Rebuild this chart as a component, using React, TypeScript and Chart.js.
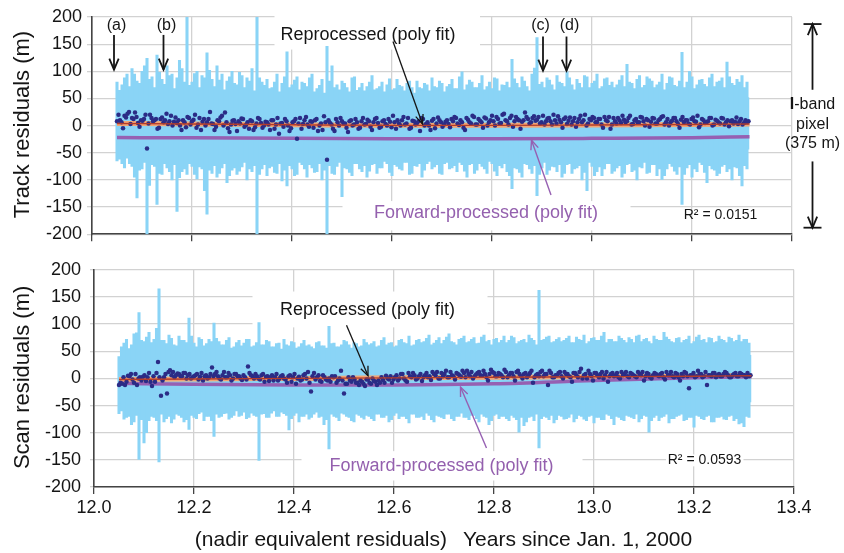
import React, { useEffect, useRef } from 'react';
import { Chart, registerables } from 'chart.js';

Chart.register(...registerables);

// ---------------- DATA ----------------
// Light-blue residual spikes (set A at SPIKE_START + i*SPIKE_STEP, set B half a step later)
const SPIKE_START = 12.05;
const SPIKE_STEP = 0.01;
const trackHigh = [
  80, 75, 95, 105, 82, 100, 124, 90, 130, 85,
  110, 95, 88, 105, 200, 80, 100, 92, 134, 85,
  110, 95, 82, 100, 75, 92, 88, 105, 200, 80,
  85, 70, 95, 78, 136, 75, 90, 80, 72, 95,
  68, 85, 146, 110, 75, 82, 70, 88, 65, 78,
  72, 92, 68, 80, 75, 66, 85, 72, 78, 70,
  82, 68, 75, 88, 70, 78, 72, 85, 68, 99,
  75, 80, 70, 92, 72, 68, 86, 75, 80, 122,
  78, 90, 72, 95, 162, 80, 88, 75, 92, 78,
  99, 75, 85, 70, 90, 78, 95, 72, 88, 80,
  75, 92, 113, 78, 85, 70, 90, 82, 75, 95,
  78, 88, 72, 135, 80, 90, 75, 85, 72, 95,
  80, 88, 117, 78, 85, 92, 80,
];
const trackLow = [
  -65, -70, -60, -75, -133, -80, -200, -72, -145, -90,
  -78, -100, -158, -85, -90, -75, -98, -80, -163, -88,
  -95, -78, -105, -82, -90, -76, -100, -85, -200, -80,
  -92, -75, -88, -102, -111, -80, -90, -72, -95, -78,
  -85, -100, -200, -88, -75, -131, -80, -92, -70, -85,
  -95, -72, -88, -78, -70, -92, -75, -82, -68, -88,
  -75, -95, -70, -80, -72, -90, -68, -78, -85, -72,
  -95, -70, -82, -75, -88, -70, -92, -78, -85, -116,
  -80, -95, -72, -88, -129, -78, -90, -75, -85, -95,
  -72, -88, -78, -100, -120, -75, -85, -92, -70, -88,
  -78, -95, -72, -85, -100, -78, -88, -72, -92, -99,
  -80, -75, -90, -145, -78, -95, -85, -72, -105, -80,
  -92, -75, -85, -100, -78, -111, -80,
];
const trackHighB = [
  65, 88, 72, 95, 78, 110, 85, 70, 98, 76,
  92, 68, 120, 80, 74, 96, 70, 88, 102, 72,
  84, 66, 90, 78, 98, 70, 82, 64, 88, 74,
  68, 80, 62, 90, 70, 84, 66, 78, 88, 62,
  74, 60, 82, 70, 66, 78, 62, 90, 70, 64,
  80, 66, 72, 62, 86, 68, 74, 64, 82, 60,
  70, 78, 64, 72, 82, 62, 76, 68, 90, 66,
  84, 70, 78, 66, 80, 88, 64, 74, 70, 86,
  70, 82, 64, 106, 76, 70, 84, 66, 80, 72,
  88, 66, 78, 92, 70, 82, 68, 86, 74, 70,
  84, 72, 80, 68, 92, 74, 86, 70, 80, 66,
  90, 74, 82, 70, 100, 68, 84, 76, 88, 72,
  82, 70, 90, 74, 80, 70,
];
const trackLowB = [
  -62, -78, -70, -95, -82, -68, -110, -75, -88, -70,
  -85, -72, -96, -80, -70, -90, -76, -120, -82, -74,
  -88, -70, -92, -78, -84, -68, -80, -74, -90, -72,
  -78, -86, -70, -82, -74, -92, -68, -80, -72, -86,
  -70, -82, -74, -90, -68, -78, -86, -70, -80, -74,
  -84, -70, -78, -66, -86, -72, -80, -68, -90, -74,
  -70, -82, -66, -76, -88, -70, -80, -74, -68, -84,
  -72, -88, -70, -80, -66, -84, -74, -70, -92, -78,
  -86, -70, -80, -74, -90, -68, -82, -76, -72, -88,
  -70, -80, -74, -86, -68, -92, -76, -80, -70, -84,
  -74, -88, -70, -82, -76, -68, -86, -72, -80, -92,
  -70, -84, -76, -90, -72, -80, -68, -86, -74, -82,
  -88, -72, -80, -76, -92, -74,
];
const scanHigh = [
  40, 65, 55, 82, 121, 68, 85, 72, 165, 70,
  80, 62, 78, 70, 111, 65, 75, 60, 72, 102,
  68, 62, 75, 58, 70, 65, 72, 60, 103, 62,
  68, 58, 65, 72, 60, 66, 58, 70, 62, 55,
  68, 60, 96, 65, 58, 70, 62, 66, 58, 72,
  62, 68, 60, 75, 65, 58, 70, 66, 78, 62,
  72, 68, 80, 65, 75, 70, 82, 66, 72, 78,
  68, 75, 65, 80, 70, 72, 66, 78, 70, 75,
  68, 72, 80, 70, 162, 72, 78, 68, 75, 70,
  78, 66, 72, 80, 68, 75, 70, 85, 72, 68,
  78, 70, 75, 66, 80, 72, 68, 78, 70, 85,
  72, 66, 75, 70, 78, 68, 80, 72, 75, 66,
  78, 70, 76, 68, 80, 72, 65,
];
const scanLow = [
  -65, -75, -70, -80, -149, -119, -78, -72, -154, -80,
  -70, -75, -68, -80, -94, -72, -65, -78, -70, -107,
  -72, -65, -75, -68, -70, -62, -72, -68, -151, -65,
  -72, -60, -70, -65, -95, -68, -80, -70, -75, -66,
  -72, -85, -130, -70, -78, -66, -72, -80, -68, -75,
  -70, -78, -66, -72, -80, -68, -74, -70, -82, -66,
  -72, -76, -68, -80, -70, -74, -66, -78, -70, -72,
  -76, -68, -80, -70, -85, -68, -74, -70, -78, -72,
  -99, -87, -72, -78, -128, -70, -76, -82, -68, -75,
  -72, -80, -68, -75, -70, -82, -72, -76, -68, -85,
  -72, -78, -70, -74, -80, -68, -99, -72, -78, -70,
  -82, -74, -68, -78, -72, -90, -70, -76, -68, -80,
  -72, -75, -70, -78, -84, -89, -72,
];
const scanHighB = [
  58, 72, 62, 84, 70, 76, 66, 92, 70, 64,
  74, 60, 70, 66, 78, 58, 72, 64, 68, 74,
  62, 70, 56, 66, 60, 72, 58, 66, 62, 70,
  58, 64, 54, 62, 68, 56, 64, 60, 58, 66,
  60, 56, 64, 58, 62, 68, 56, 64, 60, 66,
  64, 58, 70, 62, 66, 60, 72, 64, 60, 70,
  66, 74, 62, 70, 64, 76, 68, 62, 74, 66,
  72, 64, 76, 68, 62, 74, 70, 66, 78, 64,
  70, 66, 74, 62, 70, 76, 66, 72, 68, 74,
  66, 76, 70, 64, 74, 70, 78, 66, 72, 68,
  74, 66, 72, 78, 68, 74, 64, 72, 70, 76,
  68, 74, 66, 72, 64, 76, 70, 66, 74, 68,
  72, 66, 74, 70, 68, 72,
];
const scanLowB = [
  -60, -72, -85, -68, -76, -100, -70, -78, -66, -74,
  -82, -66, -72, -76, -68, -74, -62, -70, -78, -66,
  -70, -64, -72, -60, -68, -74, -64, -70, -66, -72,
  -64, -70, -62, -68, -74, -64, -70, -66, -72, -62,
  -70, -76, -66, -72, -64, -70, -78, -66, -72, -68,
  -74, -66, -72, -68, -76, -64, -70, -74, -66, -72,
  -70, -64, -76, -68, -72, -66, -74, -70, -64, -72,
  -68, -74, -66, -72, -78, -66, -70, -74, -68, -76,
  -72, -80, -70, -66, -74, -72, -68, -76, -70, -74,
  -66, -74, -70, -78, -68, -72, -76, -66, -74, -70,
  -76, -68, -72, -66, -74, -70, -78, -68, -72, -66,
  -74, -70, -66, -76, -72, -68, -74, -70, -80, -72,
  -70, -76, -68, -74, -82, -70,
];

// Solid core of the residual band, one value every CORE_STEP years
const CORE_START = 12.05;
const CORE_STEP = 0.0506;
const trackCoreHigh = [58, 62, 60, 60, 58, 55, 52, 50, 48, 47, 46, 47, 48, 46, 47, 50, 48, 47, 49, 48, 47, 50, 48, 47, 49, 52];
const trackCoreLow = [-45, -48, -50, -48, -47, -49, -47, -46, -44, -43, -44, -43, -42, -43, -44, -43, -42, -43, -44, -43, -43, -44, -43, -42, -43, -44];
const scanCoreHigh = [38, 46, 44, 42, 40, 40, 39, 38, 39, 40, 38, 39, 41, 43, 43, 45, 43, 45, 43, 45, 43, 45, 43, 43, 45, 43];
const scanCoreLow = [-44, -50, -48, -45, -44, -42, -44, -45, -42, -40, -42, -44, -44, -42, -44, -45, -44, -42, -45, -44, -44, -45, -42, -44, -45, -44];

// Dark-blue points: set A at DOT_START + i*DOT_STEP, set B half a step later
const DOT_START = 12.05;
const DOT_STEP = 0.006;
const trackDots = [
  8, 10, -5, 15, 25, 14, 24, 5, 10, 12,
  -42, 20, 8, 12, -4, 15, 10, 3, 18, 7,
  5, 0, 10, -3, 14, 8, 20, 2, -8, 12,
  6, 25, 3, -2, 8, 18, 24, -5, 2, 10,
  -10, 4, 12, 1, -6, 8, -3, 14, 5, 0,
  6, -8, 10, 2, -15, 5, 12, 0, -5, 8,
  -24, 14, 3, 16, -2, 7, 10, -10, 4, 17,
  -63, 5, -6, 12, 0, 8, 4, -12, 10, 2,
  6, -4, 14, 3, 8, -8, 12, 5, -2, 10,
  0, 7, 18, -6, 4, 10, 2, 14, -4, 8,
  5, -10, 12, 3, 0, 9, -5, 15, 6, 2,
  10, -3, 8, 14, 1, 6, -8, 11, 4, 16,
  2, 9, -4, 13, 6, 18, 0, 12, 5, 22,
  8, 14, -2, 16, 10, 7, 24, 12, 6, 17,
  11, 4, 18, 8, 14, 2, 10, 17, 6, 12,
  3, 15, 8, -2, 12, 6, 20, 4, 10, 14,
  6, 12, -4, 10, 16, 2, 8, 14, 5, 11,
  8, 18, 3, 12, 6, 15, 0, 10, 7, 13,
  4, 12, 17, 6, 0, 9, 14, 3, 11, 6,
  10, 2, 15, 7, -3, 12, 5, 8, 14, 2,
  9, 4, 13, 6, -1, 10, 7, 3, 12, 5,
  6,
];
const trackDotsB = [
  20, 6, 18, 22, 3, 12, 16, -2, 9, 20,
  4, 14, 10, -6, 12, 6, 22, 8, 0, 15,
  10, -8, 6, 16, 2, 11, -4, 14, 7, 0,
  12, 4, -8, 10, 15, 0, 6, -12, 9, 3,
  8, 13, -2, 6, 10, -8, 4, 12, -4, 7,
  2, 10, -6, 14, 4, -2, 8, -10, 6, 12,
  4, -6, 10, 2, 8, -4, 12, 0, -8, 6,
  10, 2, -10, 6, 14, 4, -4, 8, 0, 12,
  -6, 8, 2, 11, -2, 6, 14, -4, 8, 3,
  12, -3, 6, 10, 0, 16, 4, -6, 9, 2,
  8, 14, 0, 6, -8, 12, 4, 10, -2, 7,
  3, 12, 16, 4, 10, -4, 14, 6, 18, 2,
  12, 6, 15, 0, 10, 8, 16, 4, 20, 10,
  2, 18, 8, 12, -6, 10, 16, 4, 14, 9,
  16, 6, 2, 13, 8, 20, 4, 11, -4, 15,
  9, 2, 14, 6, 18, 10, 0, 12, 16, 6,
  12, 2, 16, 8, -6, 14, 4, 10, 18, 6,
  14, 2, 10, 6, 16, 8, 12, -2, 14, 4,
  10, 16, 2, 12, 6, 14, 8, -4, 16, 10,
  4, 12, 8, 18, 2, 10, 6, 14, 0, 11,
  6, 14, 2, 10, 8, 4, 15, 8, 2, 10,
  8,
];
const scanDots = [
  -12, -10, -12, 5, 8, -8, -12, 2, 3, -5,
  10, -14, -6, 30, -32, 2, -28, 15, 12, 6,
  8, 4, 10, 6, 0, 4, 8, 3, -4, 6,
  2, 20, 8, 4, -2, 12, 2, 6, 0, 8,
  4, -3, 2, 22, 6, 0, 4, -2, 8, 3,
  -5, 6, 2, -4, 4, 0, -8, 6, 2, -10,
  3, -2, 8, 12, -24, 10, 2, -5, 6, -2,
  0, 4, 4, -4, 14, -28, -10, -4, 2, -8,
  -12, -6, -14, -2, -10, -5, -12, -8, -3, 5,
  -2, -8, 2, -4, 8, 0, -6, 4, 10, -2,
  4, -5, 6, 2, -3, 8, 12, 0, 4, 14,
  2, 6, -2, 8, 3, 10, 14, 4, 0, 7,
  12, 5, 8, -4, 16, 10, 4, 8, 2, 12,
  6, 10, -4, 14, 4, 8, 2, 10, -8, 6,
  4, 14, 8, -12, 10, 2, 6, 12, 0, 8,
  4, -6, 10, 2, 18, 6, 0, 8, -4, 10,
  2, 12, 6, -6, 8, 4, 10, 0, 6, 12,
  2, 8, 4, 12, 6, -4, 10, 2, 6, 8,
  4, 10, -2, 6, 12, 2, 8, -4, 4, 10,
  -18, 6, 2, 14, 8, 4, -12, 6, 10, 2,
  8, 4, 12, 6, 2, 8, 4, 10, 6, 2,
  4,
];
const scanDotsB = [
  -8, 2, -6, 4, -2, 8, 0, -4, 6, 2,
  -6, 4, 10, 2, -4, 8, 12, 6, 2, 9,
  4, 10, 0, 8, 2, 6, -2, 10, 4, 0,
  8, 4, 12, 0, 6, 2, 10, -4, 8, 4,
  0, 6, -2, 10, 4, 8, 0, 6, -6, 4,
  2, -4, 8, 0, 6, -2, 4, -6, 8, 0,
  -4, 6, 0, -8, 4, -2, 6, -6, 2, -4,
  -6, 2, -8, 0, -4, -10, 2, -6, -2, -8,
  -4, -10, -2, -8, 0, -6, -4, 2, -8, 0,
  4, -2, 6, 0, 8, -4, 10, 2, 6, 0,
  8, 2, 10, 4, 12, 6, 0, 10, 8, 2,
  12, 4, 10, 6, 14, 2, 8, 12, 4, 10,
  6, 14, 2, 8, 12, 4, 10, 6, 16, 2,
  10, 4, 12, 8, 0, 10, 6, 14, 2, 8,
  12, 4, 8, 14, 2, 6, 10, 4, 12, 8,
  2, 10, 6, 12, 0, 8, 14, 4, 10, 6,
  8, 0, 12, 4, 10, 6, 2, 12, 8, 4,
  10, 6, 2, 8, 12, 4, 8, 0, 10, 6,
  8, 2, 12, 6, 4, 10, 2, 8, 12, 4,
  6, 10, 4, 8, 2, 12, 6, 4, 10, 6,
  4, 8, 10, 2, 6, 10, 4, 8, 6, 10,
  6,
];

// Polynomial fits
const fitX = [12.05, 12.2, 12.4, 12.6, 12.8, 13.0, 13.2, 13.315];
const trackReprocFit = [4, 3, 1.5, 0.5, 0.5, 1, 2, 3];
const trackForwardFit = [-22, -22.5, -23.5, -24, -24, -23.5, -22.5, -20.5];
const scanReprocFit = [-2, -1, 0, 1, 2, 3, 4, 5];
const scanForwardFit = [-9, -11, -12, -12, -10, -4, 1, 3];

// Axes
const X_MIN = 12.0;
const X_MAX = 13.4;
const X_STEP = 0.2;
const Y_MIN = -200;
const Y_MAX = 200;
const Y_STEP = 50;

// ---------------- STYLE ----------------
const FONT = "'Liberation Sans', Arial, Helvetica, sans-serif";
const BLUE = '#8ad4f6';
const NAVY = '#2b2c86';
const ORANGE = '#f3a472';
const DARKRED = '#b23c2c';
const PURPLE = '#9660b2';
const PURPLE_TEXT = '#9460ae';
const GRID = '#d2d2d2';
const AXIS = '#444';
const TEXT = '#151515';

type Box = { x1: number; y1: number; x2: number; y2: number };
type TextAnn = { text: string; x: number; y: number; size: number; color: string; boldPrefix?: string };
type ArrowAnn = { x1: number; y1: number; x2: number; y2: number; color: string; width: number; caps?: number; headLen?: number };
type AnnCfg = {
  id: string;
  boxes: Box[];
  texts: TextAnn[];
  arrows: ArrowAnn[];
  yTitle: string;
  xTitle?: { left: string; right: string; leftEnd: number; rightStart: number; y: number };
};

const topAnn: AnnCfg = {
  id: 'annTop',
  boxes: [
    { x1: 12.365, y1: 212, x2: 12.776, y2: 140 },
    { x1: 12.501, y1: -139, x2: 13.077, y2: -193 },
  ],
  texts: [
    { text: '(a)', x: 12.049, y: 185, size: 16, color: TEXT },
    { text: '(b)', x: 12.149, y: 185, size: 16, color: TEXT },
    { text: '(c)', x: 12.897, y: 185, size: 16, color: TEXT },
    { text: '(d)', x: 12.955, y: 185, size: 16, color: TEXT },
    { text: 'Reprocessed (poly fit)', x: 12.552, y: 167, size: 18, color: TEXT },
    { text: 'Forward-processed (poly fit)', x: 12.788, y: -161, size: 18, color: PURPLE_TEXT },
    { text: 'R² = 0.0151', x: 13.257, y: -165, size: 14, color: TEXT },
    { text: '-band', x: 13.441, y: 39, size: 16, color: TEXT, boldPrefix: 'I' },
    { text: 'pixel', x: 13.441, y: 1, size: 16, color: TEXT },
    { text: '(375 m)', x: 13.441, y: -33, size: 16, color: TEXT },
  ],
  arrows: [
    { x1: 12.044, y1: 167, x2: 12.044, y2: 103, color: TEXT, width: 1.8, headLen: 12 },
    { x1: 12.143, y1: 167, x2: 12.143, y2: 103, color: TEXT, width: 1.8, headLen: 12 },
    { x1: 12.902, y1: 164, x2: 12.902, y2: 101, color: TEXT, width: 1.8, headLen: 12 },
    { x1: 12.949, y1: 164, x2: 12.949, y2: 101, color: TEXT, width: 1.8, headLen: 12 },
    { x1: 12.602, y1: 155, x2: 12.661, y2: 3, color: TEXT, width: 1.3, headLen: 10 },
    { x1: 12.918, y1: -128, x2: 12.879, y2: -27, color: PURPLE, width: 1.4, headLen: 10 },
    { x1: 13.441, y1: 66, x2: 13.441, y2: 187, color: TEXT, width: 1.8, caps: 9, headLen: 12 },
    { x1: 13.441, y1: -66, x2: 13.441, y2: -188, color: TEXT, width: 1.8, caps: 9, headLen: 12 },
  ],
  yTitle: 'Track residuals (m)',
};

const bottomAnn: AnnCfg = {
  id: 'annBottom',
  boxes: [
    { x1: 12.317, y1: 160, x2: 12.787, y2: 94 },
    { x1: 12.415, y1: -134, x2: 12.977, y2: -188 },
    { x1: 13.144, y1: -140, x2: 13.299, y2: -162 },
  ],
  texts: [
    { text: 'Reprocessed (poly fit)', x: 12.547, y: 125, size: 18, color: TEXT },
    { text: 'Forward-processed (poly fit)', x: 12.695, y: -161, size: 18, color: PURPLE_TEXT },
    { text: 'R² = 0.0593', x: 13.221, y: -151, size: 14, color: TEXT },
  ],
  arrows: [
    { x1: 12.505, y1: 98, x2: 12.548, y2: 5, color: TEXT, width: 1.3, headLen: 10 },
    { x1: 12.785, y1: -128, x2: 12.733, y2: -16, color: PURPLE, width: 1.4, headLen: 10 },
  ],
  yTitle: 'Scan residuals (m)',
  xTitle: { left: '(nadir equivalent residuals)', right: 'Years since Jan. 1, 2000', leftEnd: 447, rightStart: 463, y: 290 },
};

function drawHead(ctx: CanvasRenderingContext2D, x: number, y: number, ang: number, len: number) {
  const spread = 0.4;
  ctx.beginPath();
  ctx.moveTo(x - len * Math.cos(ang - spread), y - len * Math.sin(ang - spread));
  ctx.lineTo(x, y);
  ctx.lineTo(x - len * Math.cos(ang + spread), y - len * Math.sin(ang + spread));
  ctx.stroke();
}

function makeAnnPlugin(cfg: AnnCfg) {
  return {
    id: cfg.id,
    beforeDatasetsDraw(chart: any) {
      const { ctx, scales } = chart;
      const sx = scales.x;
      const sy = scales.y;
      ctx.save();
      ctx.fillStyle = '#ffffff';
      for (const b of cfg.boxes) {
        const px1 = sx.getPixelForValue(b.x1);
        const px2 = sx.getPixelForValue(b.x2);
        const py1 = sy.getPixelForValue(b.y1);
        const py2 = sy.getPixelForValue(b.y2);
        ctx.fillRect(px1, py1, px2 - px1, py2 - py1);
      }
      ctx.restore();
    },
    afterDraw(chart: any) {
      const { ctx, scales, chartArea } = chart;
      const sx = scales.x;
      const sy = scales.y;
      ctx.save();
      ctx.textBaseline = 'middle';
      for (const t of cfg.texts) {
        const px = sx.getPixelForValue(t.x);
        const py = sy.getPixelForValue(t.y);
        ctx.fillStyle = t.color;
        if (t.boldPrefix) {
          ctx.font = `bold ${t.size}px ${FONT}`;
          const wb = ctx.measureText(t.boldPrefix).width;
          ctx.font = `${t.size}px ${FONT}`;
          const wr = ctx.measureText(t.text).width;
          const start = px - (wb + wr) / 2;
          ctx.textAlign = 'left';
          ctx.font = `bold ${t.size}px ${FONT}`;
          ctx.fillText(t.boldPrefix, start, py);
          ctx.font = `${t.size}px ${FONT}`;
          ctx.fillText(t.text, start + wb, py);
        } else {
          ctx.font = `${t.size}px ${FONT}`;
          ctx.textAlign = 'center';
          ctx.fillText(t.text, px, py);
        }
      }
      for (const a of cfg.arrows) {
        const x1 = sx.getPixelForValue(a.x1);
        const y1 = sy.getPixelForValue(a.y1);
        const x2 = sx.getPixelForValue(a.x2);
        const y2 = sy.getPixelForValue(a.y2);
        ctx.strokeStyle = a.color;
        ctx.lineWidth = a.width;
        ctx.lineCap = 'butt';
        ctx.beginPath();
        ctx.moveTo(x1, y1);
        ctx.lineTo(x2, y2);
        ctx.stroke();
        const ang = Math.atan2(y2 - y1, x2 - x1);
        drawHead(ctx, x2, y2, ang, a.headLen || 10);
        if (a.caps) {
          ctx.beginPath();
          ctx.moveTo(x2 - a.caps, y2);
          ctx.lineTo(x2 + a.caps, y2);
          ctx.stroke();
        }
      }
      ctx.fillStyle = TEXT;
      ctx.font = `22px ${FONT}`;
      ctx.textAlign = 'center';
      ctx.translate(23, (chartArea.top + chartArea.bottom) / 2 - 1);
      ctx.rotate(-Math.PI / 2);
      ctx.fillText(cfg.yTitle, 0, 0);
      ctx.setTransform(1, 0, 0, 1, 0, 0);
      if (cfg.xTitle) {
        ctx.font = `21px ${FONT}`;
        ctx.textAlign = 'right';
        ctx.fillText(cfg.xTitle.left, cfg.xTitle.leftEnd, cfg.xTitle.y);
        ctx.textAlign = 'left';
        ctx.fillText(cfg.xTitle.right, cfg.xTitle.rightStart, cfg.xTitle.y);
      }
      ctx.restore();
    },
  };
}

function buildChart(
  canvas: HTMLCanvasElement,
  high: number[],
  low: number[],
  highB: number[],
  lowB: number[],
  coreHigh: number[],
  coreLow: number[],
  dots: number[],
  dotsB: number[],
  reproc: number[],
  forward: number[],
  ann: AnnCfg,
  isBottom: boolean,
) {
  const spikesA = high.map((h, i) => ({ x: SPIKE_START + i * SPIKE_STEP, y: [low[i], h] }));
  const spikesB = highB.map((h, i) => ({ x: SPIKE_START + (i + 0.5) * SPIKE_STEP, y: [lowB[i], h] }));
  const coreHi = coreHigh.map((v, i) => ({ x: CORE_START + i * CORE_STEP, y: v }));
  const coreLo = coreLow.map((v, i) => ({ x: CORE_START + i * CORE_STEP, y: v }));
  const dotPts = dots.map((v, i) => ({ x: DOT_START + i * DOT_STEP, y: v }));
  const dotPtsB = dotsB.map((v, i) => ({ x: DOT_START + (i + 0.5) * DOT_STEP, y: v }));
  const repPts = reproc.map((v, i) => ({ x: fitX[i], y: v }));
  const fwdPts = forward.map((v, i) => ({ x: fitX[i], y: v }));

  const yWidth = isBottom ? 94 : 92;
  const xHeight = isBottom ? 66 : 10;

  return new Chart(canvas, {
    type: 'bar',
    data: {
      datasets: [
        { type: 'line', data: coreHi, fill: '+1', backgroundColor: BLUE, borderWidth: 0, pointRadius: 0, order: 7 } as any,
        { type: 'line', data: coreLo, fill: false, borderWidth: 0, pointRadius: 0, order: 7 } as any,
        { type: 'bar', data: spikesA, backgroundColor: BLUE, borderWidth: 0, barThickness: 2.4, grouped: false, order: 5 } as any,
        { type: 'bar', data: spikesB, backgroundColor: BLUE, borderWidth: 0, barThickness: 2.4, grouped: false, order: 6 } as any,
        { type: 'line', data: fwdPts, borderColor: PURPLE, borderWidth: 3.5, pointRadius: 0, fill: false, cubicInterpolationMode: 'monotone', order: 3 } as any,
        { type: 'line', data: repPts, borderColor: ORANGE, borderWidth: 5, pointRadius: 0, fill: false, cubicInterpolationMode: 'monotone', order: 3 } as any,
        { type: 'scatter', data: dotPts, backgroundColor: NAVY, borderWidth: 0, pointRadius: 2.25, order: 2 } as any,
        { type: 'scatter', data: dotPtsB, backgroundColor: NAVY, borderWidth: 0, pointRadius: 2.25, order: 2 } as any,
        { type: 'line', data: repPts, borderColor: DARKRED, borderWidth: 1.4, pointRadius: 0, fill: false, cubicInterpolationMode: 'monotone', order: 1 } as any,
      ],
    },
    options: {
      animation: false,
      responsive: false,
      devicePixelRatio: 1,
      events: [],
      layout: { padding: { left: 0, right: isBottom ? 50 : 52, top: isBottom ? 12 : 17, bottom: 0 } },
      plugins: { legend: { display: false }, tooltip: { enabled: false } },
      scales: {
        x: {
          type: 'linear',
          min: X_MIN,
          max: X_MAX,
          offset: false,
          grid: { color: GRID, lineWidth: 1.3, tickColor: AXIS, tickLength: 7, offset: false, drawTicks: true },
          border: { color: AXIS, width: 1.6 },
          ticks: {
            display: isBottom,
            stepSize: X_STEP,
            padding: 3,
            color: TEXT,
            font: { family: FONT, size: 18 },
            maxRotation: 0,
            callback: (v: any) => Number(v).toFixed(1),
          },
          afterFit: (s: any) => { s.height = xHeight; },
        },
        y: {
          type: 'linear',
          min: Y_MIN,
          max: Y_MAX,
          grid: { color: GRID, lineWidth: 1.3, tickLength: isBottom ? 4 : 5 },
          border: { color: AXIS, width: 1.6 },
          ticks: {
            stepSize: Y_STEP,
            padding: isBottom ? 9 : 5,
            color: TEXT,
            font: { family: FONT, size: 18 },
            callback: (v: any) => String(v),
          },
          afterFit: (s: any) => { s.width = yWidth; },
        },
      },
    } as any,
    plugins: [makeAnnPlugin(ann) as any],
  });
}

export default function App() {
  const topRef = useRef<HTMLCanvasElement | null>(null);
  const botRef = useRef<HTMLCanvasElement | null>(null);

  useEffect(() => {
    const c1 = buildChart(topRef.current!, trackHigh, trackLow, trackHighB, trackLowB, trackCoreHigh, trackCoreLow, trackDots, trackDotsB, trackReprocFit, trackForwardFit, topAnn, false);
    const c2 = buildChart(botRef.current!, scanHigh, scanLow, scanHighB, scanLowB, scanCoreHigh, scanCoreLow, scanDots, scanDotsB, scanReprocFit, scanForwardFit, bottomAnn, true);
    return () => {
      c1.destroy();
      c2.destroy();
    };
  }, []);

  return (
    <div style={{ position: 'absolute', left: 0, top: 0, width: 844, height: 553, background: '#fff' }}>
      <canvas ref={topRef} width={844} height={250} style={{ position: 'absolute', left: 0, top: 0, width: 844, height: 250 }} />
      <canvas ref={botRef} width={844} height={303} style={{ position: 'absolute', left: 0, top: 250, width: 844, height: 303 }} />
    </div>
  );
}
